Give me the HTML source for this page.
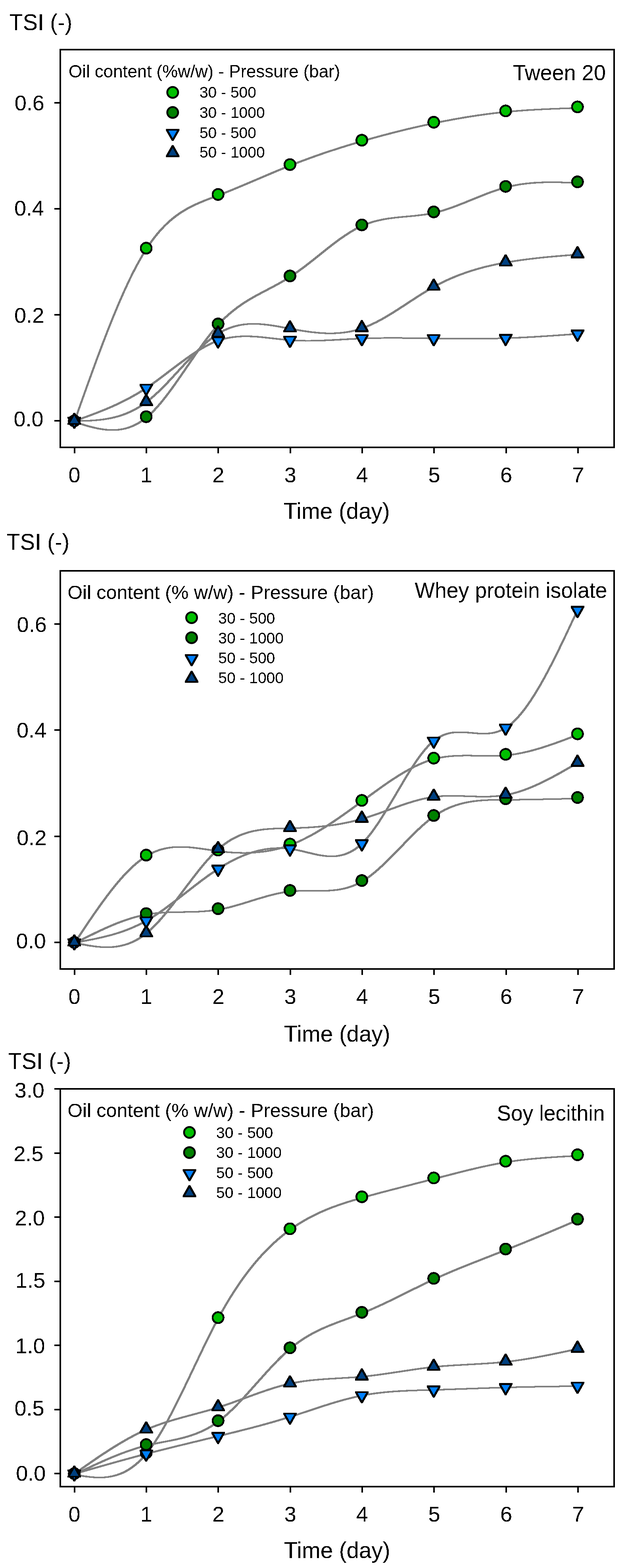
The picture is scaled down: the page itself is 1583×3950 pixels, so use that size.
<!DOCTYPE html><html><head><meta charset="utf-8"><title>TSI vs Time</title><style>html,body{margin:0;padding:0;background:#fff}svg{display:block}text{font-family:"Liberation Sans",Arial,Helvetica,sans-serif;fill:#000}</style></head><body>
<svg width="1583" height="3950" viewBox="0 0 1583 3950">
<defs><filter id="crisp" x="0" y="0" width="1583" height="3950" filterUnits="userSpaceOnUse"><feComponentTransfer><feFuncA type="discrete" tableValues="0 1"/></feComponentTransfer></filter></defs>
<rect width="1583" height="3950" fill="#fff"/>
<g fill="#000" shape-rendering="crispEdges">
<rect x="150" y="123" width="1400" height="4"/>
<rect x="150" y="1125" width="1400" height="4"/>
<rect x="150" y="123" width="4" height="1006"/>
<rect x="1546" y="123" width="4" height="1006"/>
<rect x="137" y="1058" width="14" height="4"/>
<rect x="137" y="791" width="14" height="4"/>
<rect x="137" y="524" width="14" height="4"/>
<rect x="137" y="257" width="14" height="4"/>
<rect x="186" y="1128" width="4" height="14"/>
<rect x="367" y="1128" width="4" height="14"/>
<rect x="548" y="1128" width="4" height="14"/>
<rect x="730" y="1128" width="4" height="14"/>
<rect x="911" y="1128" width="4" height="14"/>
<rect x="1092" y="1128" width="4" height="14"/>
<rect x="1274" y="1128" width="4" height="14"/>
<rect x="1455" y="1128" width="4" height="14"/>
</g>
<g stroke="#000" stroke-width="4.6">
<circle cx="435.3" cy="232.7" r="13.7" fill="#00C000" stroke-width="4.6"/>
<circle cx="435.3" cy="283.2" r="13.7" fill="#008000" stroke-width="4.6"/>
<g stroke="none"><path d="M433.3 355.1L437.3 355.1L452.3 328.7L452.3 324.7L418.3 324.7L418.3 328.7Z" fill="#000" stroke-width="4"/><path d="M435.3 348.2L446.1 329.1L424.5 329.1Z" fill="#0080FF" stroke-width="4"/></g>
<g stroke="none"><path d="M433.3 365.6L437.3 365.6L452.3 392L452.3 396L418.3 396L418.3 392Z" fill="#000" stroke-width="4"/><path d="M435.3 372.5L446.1 391.6L424.5 391.6Z" fill="#004080" stroke-width="4"/></g>
</g>
<g fill="#808080" fill-rule="evenodd" shape-rendering="crispEdges">
<path d="M281.3 801.2L269.3 831.4L257.3 862.4L244.3 896.9L230.3 935.0L211.3 987.7L185.3 1060.8L185.3 1064.8L189.3 1064.8L222.3 972.1L246.3 906.3L267.3 850.8L277.3 825.2L287.3 800.3L302.3 764.4L316.3 732.7L330.3 702.8L343.3 677.0L350.4 664.0L357.4 651.5L364.4 639.6L371.4 628.5L378.4 618.0L385.4 608.1L392.4 598.9L399.4 590.2L406.4 582.2L414.4 573.6L421.4 566.6L429.4 559.3L437.4 552.5L445.4 546.3L453.4 540.5L462.4 534.6L472.4 528.6L483.4 522.7L494.4 517.4L506.4 512.0L521.4 505.9L559.4 491.4L585.4 481.0L616.4 468.1L704.5 430.8L731.5 419.8L757.5 409.7L781.5 400.8L806.5 391.9L831.5 383.4L857.5 375.0L884.5 366.6L912.5 358.3L941.5 350.0L969.5 342.4L999.6 334.6L1029.6 327.2L1059.6 320.2L1089.6 313.7L1118.6 307.8L1147.6 302.3L1175.6 297.5L1203.6 293.1L1231.6 289.2L1258.6 285.9L1285.6 283.1L1313.7 280.8L1342.7 278.8L1374.7 277.1L1409.7 275.6L1457.7 273.9L1457.7 269.9L1429.7 270.7L1384.7 272.5L1353.7 274.0L1325.7 275.6L1299.7 277.6L1275.6 279.7L1251.6 282.2L1227.6 285.2L1200.6 288.9L1173.6 293.1L1145.6 297.9L1117.6 303.2L1088.6 309.1L1058.6 315.6L1029.6 322.2L999.6 329.6L971.5 336.8L942.5 344.6L913.5 352.8L885.5 361.1L858.5 369.4L832.5 377.8L806.5 386.5L781.5 395.3L749.5 407.2L717.5 419.8L685.5 433.0L616.4 462.5L587.4 474.6L557.4 486.6L514.4 503.1L503.4 507.6L493.4 512.0L484.4 516.2L476.4 520.3L468.4 524.6L460.4 529.4L453.4 533.8L446.4 538.6L439.4 543.8L432.4 549.3L425.4 555.3L419.4 560.7L412.4 567.6L406.4 573.8L399.4 581.6L393.4 588.6L387.4 596.2L381.4 604.1L375.4 612.5L369.4 621.4L358.4 639.0L346.4 660.0L334.3 682.7L321.3 709.3L308.3 737.6L295.3 767.5Z"/>
<path d="M185.3 1064.8L211.3 1072.9L224.3 1076.6L236.3 1079.6L248.3 1082.1L259.3 1083.9L269.3 1084.9L278.3 1085.4L290.3 1085.3L299.3 1084.7L308.3 1083.5L317.3 1081.7L326.3 1079.1L335.3 1075.7L343.3 1072.0L352.4 1067.1L360.4 1061.9L366.4 1057.6L372.4 1052.8L378.4 1047.5L384.4 1041.8L390.4 1035.8L397.4 1028.3L404.4 1020.3L411.4 1011.9L425.4 994.0L440.4 973.6L456.4 950.8L500.4 886.8L513.4 868.6L525.4 852.5L538.4 836.0L551.4 820.9L557.4 814.4L564.4 807.3L570.4 801.5L577.4 795.1L588.4 785.8L600.4 776.5L613.4 767.4L626.4 759.1L637.4 752.6L650.4 745.3L693.5 722.6L708.5 714.4L724.5 705.1L738.5 696.1L753.5 685.7L770.5 673.1L787.5 659.9L832.5 624.1L846.5 613.4L858.5 604.5L872.5 594.8L885.5 586.5L897.5 579.5L909.5 573.3L915.5 570.6L922.5 567.6L929.5 565.0L936.5 562.6L943.5 560.4L951.5 558.3L966.5 555.0L980.5 552.6L995.6 550.6L1010.6 549.0L1049.6 545.4L1069.6 543.0L1079.6 541.4L1089.6 539.6L1098.6 537.7L1108.6 535.1L1117.6 532.6L1127.6 529.4L1138.6 525.7L1149.6 521.7L1170.6 513.5L1220.6 493.3L1234.6 487.9L1246.6 483.5L1259.6 479.2L1271.6 475.5L1282.6 472.6L1294.6 469.9L1310.7 466.9L1327.7 464.5L1345.7 462.8L1363.7 461.7L1381.7 461.2L1399.7 461.2L1418.7 461.6L1453.7 462.8L1457.7 462.8L1457.7 458.8L1426.7 457.7L1403.7 457.2L1380.7 457.1L1361.7 457.6L1343.7 458.6L1325.7 460.3L1309.7 462.4L1293.6 465.3L1281.6 467.9L1269.6 471.0L1256.6 474.8L1243.6 479.2L1231.6 483.5L1217.6 488.9L1166.6 509.5L1145.6 517.7L1134.6 521.7L1123.6 525.4L1113.6 528.6L1103.6 531.4L1093.6 533.9L1084.6 535.8L1074.6 537.6L1064.6 539.1L1044.6 541.5L1007.6 544.9L992.6 546.5L976.5 548.6L962.5 551.0L947.5 554.3L939.5 556.4L932.5 558.6L925.5 561.0L918.5 563.6L911.5 566.6L905.5 569.3L893.5 575.5L881.5 582.5L868.5 590.8L854.5 600.5L842.5 609.4L828.5 620.1L783.5 655.9L766.5 669.1L749.5 681.7L734.5 692.1L720.5 701.1L704.5 710.4L689.5 718.6L646.4 741.3L633.4 748.6L622.4 755.1L609.4 763.4L596.4 772.5L584.4 781.8L573.4 791.1L566.4 797.5L560.4 803.3L553.4 810.4L547.4 816.9L534.4 832.0L521.4 848.5L509.4 864.6L496.4 882.8L452.4 946.8L437.4 968.2L422.4 988.7L408.4 1006.7L401.4 1015.1L394.4 1023.1L387.4 1030.7L381.4 1036.9L375.4 1042.6L369.4 1047.9L363.4 1052.8L357.4 1057.2L349.4 1062.5L341.3 1067.0L333.3 1070.9L325.3 1074.0L317.3 1076.6L308.3 1078.8L299.3 1080.3L290.3 1081.1L283.3 1081.4L272.3 1080.8L261.3 1079.6L250.3 1077.8L238.3 1075.2L224.3 1071.5L209.3 1067.1L189.3 1060.8L185.3 1060.8Z"/>
<path d="M281.3 1021.8L261.3 1030.3L240.3 1038.7L217.3 1047.3L185.3 1058.9L185.3 1062.9L189.3 1062.9L229.3 1048.4L258.3 1037.2L276.3 1029.7L293.3 1022.2L309.3 1014.6L324.3 1007.0L338.3 999.3L351.4 991.8L364.4 983.7L377.4 975.1L389.4 966.7L403.4 956.5L451.4 920.2L470.4 906.2L490.4 892.4L499.4 886.6L508.4 881.1L518.4 875.4L528.4 870.1L538.4 865.5L547.4 861.8L556.4 858.6L566.4 855.7L575.4 853.6L585.4 851.8L597.4 850.3L609.4 849.5L619.8 849.2L633.4 849.6L645.4 850.3L659.4 851.5L707.5 856.9L726.5 858.7L747.5 860.0L770.5 860.5L791.5 860.4L813.5 859.8L837.5 858.8L910.5 854.8L934.5 854.0L960.5 853.5L984.9 853.4L1013.6 853.5L1109.6 855.0L1151.6 855.4L1192.6 855.4L1228.6 855.1L1269.6 854.2L1309.7 852.7L1353.7 850.3L1405.7 846.9L1457.7 843.2L1457.7 839.2L1453.7 839.2L1384.7 844.1L1334.7 847.2L1292.6 849.2L1254.6 850.5L1212.6 851.3L1167.6 851.4L1118.6 851.0L1013.6 849.5L980.6 849.4L954.5 849.6L931.5 850.0L910.5 850.7L887.5 851.8L822.5 855.3L801.5 856.1L782.5 856.5L770.5 856.5L757.5 856.2L745.5 855.7L733.5 854.9L713.5 853.1L662.4 847.4L648.4 846.2L636.4 845.5L622.4 845.2L606.4 845.4L593.4 846.3L581.4 847.8L572.4 849.4L563.4 851.4L554.4 854.0L545.4 857.0L536.4 860.6L527.4 864.7L517.4 869.7L507.4 875.3L498.4 880.7L489.4 886.4L479.4 893.1L469.4 900.1L449.4 914.7L394.4 956.2L377.4 968.3L362.4 978.4L343.3 990.1L323.3 1001.4L303.3 1011.6Z"/>
<path d="M281.3 1050.5L271.3 1052.5L261.3 1054.2L251.3 1055.5L240.3 1056.6L229.3 1057.4L217.3 1058.0L185.3 1058.9L185.3 1062.9L216.3 1062.2L229.3 1061.7L240.3 1060.9L251.3 1059.9L261.3 1058.8L271.3 1057.2L280.3 1055.6L289.3 1053.6L298.3 1051.2L307.3 1048.4L316.3 1045.3L325.3 1041.6L333.3 1038.0L341.3 1033.9L349.4 1029.4L356.4 1025.1L362.4 1021.1L374.4 1012.3L387.4 1001.6L401.4 988.8L413.4 977.0L427.4 962.6L472.4 914.0L489.4 896.2L506.4 879.3L514.4 871.8L522.4 864.7L530.4 858.0L538.4 851.8L546.4 846.1L553.4 841.6L560.4 837.6L568.4 833.5L576.4 830.0L584.4 826.9L591.4 824.7L598.4 822.8L605.4 821.2L613.4 819.8L621.4 818.8L629.4 818.2L638.4 817.9L644.4 818.0L652.4 818.4L661.5 819.1L679.5 821.2L698.5 824.3L740.5 832.0L762.5 835.8L784.5 838.8L804.5 840.8L815.5 841.4L826.5 841.8L839.5 841.8L849.5 841.4L859.5 840.7L869.5 839.6L879.5 838.1L888.5 836.4L896.5 834.5L904.5 832.3L912.5 829.8L919.5 827.4L927.5 824.2L935.5 820.8L951.5 813.1L968.5 803.9L987.6 792.6L1007.6 780.0L1046.6 754.5L1063.6 743.6L1080.6 733.2L1095.6 724.5L1114.6 714.5L1124.6 709.7L1134.6 705.1L1154.6 696.7L1175.6 688.9L1187.6 685.0L1199.6 681.3L1211.6 677.8L1224.6 674.4L1237.6 671.3L1250.6 668.4L1278.6 663.0L1296.6 660.0L1314.7 657.3L1333.7 654.8L1354.7 652.3L1375.7 650.1L1398.7 648.0L1457.7 643.2L1457.7 639.2L1453.7 639.2L1416.7 642.1L1389.7 644.4L1365.7 646.7L1327.7 651.1L1309.7 653.5L1292.6 656.0L1276.6 658.7L1260.6 661.6L1245.6 664.6L1230.6 668.0L1216.6 671.4L1202.6 675.2L1188.6 679.4L1175.6 683.6L1154.6 691.2L1143.6 695.5L1133.6 699.8L1123.6 704.3L1113.6 709.0L1103.6 714.1L1093.6 719.4L1077.6 728.6L1060.6 739.0L1043.6 749.9L1003.6 776.0L983.6 788.6L964.5 799.9L946.5 809.6L930.5 817.2L922.5 820.6L914.5 823.7L907.5 826.2L899.5 828.6L891.5 830.8L883.5 832.6L874.5 834.3L864.5 835.8L855.5 836.7L845.5 837.4L836.5 837.7L828.5 837.7L817.5 837.4L806.5 836.6L786.5 834.6L765.5 831.6L744.5 828.0L702.5 820.3L683.5 817.2L665.5 815.1L656.4 814.4L648.4 814.0L637.4 813.9L629.4 814.0L620.4 814.6L612.4 815.4L604.4 816.7L596.4 818.3L588.4 820.4L580.4 822.9L572.4 826.0L564.4 829.5L556.4 833.6L548.4 838.3L540.4 843.5L532.4 849.3L524.4 855.7L515.4 863.3L500.4 877.2L483.4 894.2L467.4 911.1L427.4 954.3L416.4 965.9L406.4 976.0L396.4 985.7L386.4 994.9L377.4 1002.7L368.4 1009.9L358.4 1017.1L348.4 1023.6L338.3 1029.4L327.3 1034.9L316.3 1039.7L305.3 1043.8L293.3 1047.5Z"/>
</g>
<g stroke="#000" shape-rendering="crispEdges">
<circle cx="187.3" cy="1060.2" r="13.7" fill="#00C000" stroke-width="4.6"/>
<circle cx="368.5" cy="625.2" r="13.7" fill="#00C000" stroke-width="4.6"/>
<circle cx="549.7" cy="489.8" r="13.7" fill="#00C000" stroke-width="4.6"/>
<circle cx="730.9" cy="414.6" r="13.7" fill="#00C000" stroke-width="4.6"/>
<circle cx="912.1" cy="353.2" r="13.7" fill="#00C000" stroke-width="4.6"/>
<circle cx="1093.3" cy="307.9" r="13.7" fill="#00C000" stroke-width="4.6"/>
<circle cx="1274.5" cy="279.4" r="13.7" fill="#00C000" stroke-width="4.6"/>
<circle cx="1455.7" cy="269.3" r="13.7" fill="#00C000" stroke-width="4.6"/>
<circle cx="187.3" cy="1060.2" r="13.7" fill="#008000" stroke-width="4.6"/>
<circle cx="368.5" cy="1049.7" r="13.7" fill="#008000" stroke-width="4.6"/>
<circle cx="549.7" cy="816" r="13.7" fill="#008000" stroke-width="4.6"/>
<circle cx="730.9" cy="695.2" r="13.7" fill="#008000" stroke-width="4.6"/>
<circle cx="912.1" cy="566.6" r="13.7" fill="#008000" stroke-width="4.6"/>
<circle cx="1093.3" cy="533.8" r="13.7" fill="#008000" stroke-width="4.6"/>
<circle cx="1274.5" cy="469.6" r="13.7" fill="#008000" stroke-width="4.6"/>
<circle cx="1455.7" cy="458.2" r="13.7" fill="#008000" stroke-width="4.6"/>
<g stroke="none"><path d="M185.3 1080.4L189.3 1080.4L204.3 1054L204.3 1050L170.3 1050L170.3 1054Z" fill="#000" stroke-width="4"/><path d="M187.3 1073.5L198.1 1054.4L176.5 1054.4Z" fill="#0080FF" stroke-width="4"/></g>
<g stroke="none"><path d="M366.5 997.2L370.5 997.2L385.5 970.8L385.5 966.8L351.5 966.8L351.5 970.8Z" fill="#000" stroke-width="4"/><path d="M368.5 990.3L379.3 971.2L357.7 971.2Z" fill="#0080FF" stroke-width="4"/></g>
<g stroke="none"><path d="M547.7 877.7L551.7 877.7L566.7 851.3L566.7 847.3L532.7 847.3L532.7 851.3Z" fill="#000" stroke-width="4"/><path d="M549.7 870.8L560.5 851.7L538.9 851.7Z" fill="#0080FF" stroke-width="4"/></g>
<g stroke="none"><path d="M728.9 876.4L732.9 876.4L747.9 850L747.9 846L713.9 846L713.9 850Z" fill="#000" stroke-width="4"/><path d="M730.9 869.5L741.7 850.4L720.1 850.4Z" fill="#0080FF" stroke-width="4"/></g>
<g stroke="none"><path d="M910.1 872.2L914.1 872.2L929.1 845.8L929.1 841.8L895.1 841.8L895.1 845.8Z" fill="#000" stroke-width="4"/><path d="M912.1 865.3L922.9 846.2L901.3 846.2Z" fill="#0080FF" stroke-width="4"/></g>
<g stroke="none"><path d="M1091.3 872.2L1095.3 872.2L1110.3 845.8L1110.3 841.8L1076.3 841.8L1076.3 845.8Z" fill="#000" stroke-width="4"/><path d="M1093.3 865.3L1104.1 846.2L1082.5 846.2Z" fill="#0080FF" stroke-width="4"/></g>
<g stroke="none"><path d="M1272.5 871.5L1276.5 871.5L1291.5 845.1L1291.5 841.1L1257.5 841.1L1257.5 845.1Z" fill="#000" stroke-width="4"/><path d="M1274.5 864.6L1285.3 845.5L1263.7 845.5Z" fill="#0080FF" stroke-width="4"/></g>
<g stroke="none"><path d="M1453.7 860.7L1457.7 860.7L1472.7 834.3L1472.7 830.3L1438.7 830.3L1438.7 834.3Z" fill="#000" stroke-width="4"/><path d="M1455.7 853.8L1466.5 834.7L1444.9 834.7Z" fill="#0080FF" stroke-width="4"/></g>
<g stroke="none"><path d="M185.3 1040L189.3 1040L204.3 1066.4L204.3 1070.4L170.3 1070.4L170.3 1066.4Z" fill="#000" stroke-width="4"/><path d="M187.3 1046.9L198.1 1066L176.5 1066Z" fill="#004080" stroke-width="4"/></g>
<g stroke="none"><path d="M366.5 992.4L370.5 992.4L385.5 1018.8L385.5 1022.8L351.5 1022.8L351.5 1018.8Z" fill="#000" stroke-width="4"/><path d="M368.5 999.3L379.3 1018.4L357.7 1018.4Z" fill="#004080" stroke-width="4"/></g>
<g stroke="none"><path d="M547.7 819.8L551.7 819.8L566.7 846.2L566.7 850.2L532.7 850.2L532.7 846.2Z" fill="#000" stroke-width="4"/><path d="M549.7 826.7L560.5 845.8L538.9 845.8Z" fill="#004080" stroke-width="4"/></g>
<g stroke="none"><path d="M728.9 807L732.9 807L747.9 833.4L747.9 837.4L713.9 837.4L713.9 833.4Z" fill="#000" stroke-width="4"/><path d="M730.9 813.9L741.7 833L720.1 833Z" fill="#004080" stroke-width="4"/></g>
<g stroke="none"><path d="M910.1 806.4L914.1 806.4L929.1 832.8L929.1 836.8L895.1 836.8L895.1 832.8Z" fill="#000" stroke-width="4"/><path d="M912.1 813.3L922.9 832.4L901.3 832.4Z" fill="#004080" stroke-width="4"/></g>
<g stroke="none"><path d="M1091.3 701.8L1095.3 701.8L1110.3 728.2L1110.3 732.2L1076.3 732.2L1076.3 728.2Z" fill="#000" stroke-width="4"/><path d="M1093.3 708.7L1104.1 727.8L1082.5 727.8Z" fill="#004080" stroke-width="4"/></g>
<g stroke="none"><path d="M1272.5 640.5L1276.5 640.5L1291.5 666.9L1291.5 670.9L1257.5 670.9L1257.5 666.9Z" fill="#000" stroke-width="4"/><path d="M1274.5 647.4L1285.3 666.5L1263.7 666.5Z" fill="#004080" stroke-width="4"/></g>
<g stroke="none"><path d="M1453.7 620.3L1457.7 620.3L1472.7 646.7L1472.7 650.7L1438.7 650.7L1438.7 646.7Z" fill="#000" stroke-width="4"/><path d="M1455.7 627.2L1466.5 646.3L1444.9 646.3Z" fill="#004080" stroke-width="4"/></g>
</g>
<g filter="url(#crisp)"><text x="36.7" y="277.6" font-size="54">0.6</text><text x="36" y="542.6" font-size="54">0.4</text><text x="36.1" y="813.1" font-size="54">0.2</text><text x="34.5" y="1073.5" font-size="54">0.0</text><text x="187.5" y="1214.7" font-size="54" text-anchor="middle">0</text><text x="368.9" y="1214.7" font-size="54" text-anchor="middle">1</text><text x="550.3" y="1214.7" font-size="54" text-anchor="middle">2</text><text x="731.7" y="1214.7" font-size="54" text-anchor="middle">3</text><text x="913.1" y="1214.7" font-size="54" text-anchor="middle">4</text><text x="1094.5" y="1214.7" font-size="54" text-anchor="middle">5</text><text x="1275.9" y="1214.7" font-size="54" text-anchor="middle">6</text><text x="1457.3" y="1214.7" font-size="54" text-anchor="middle">7</text><text transform="translate(23.6 76.2) scale(1 1.04)" font-size="56">TSI (-)</text><text x="714.8" y="1306.5" font-size="56.5">Time (day)</text><text x="172.9" y="194.6" font-size="43.83">Oil content (%w/w) - Pressure (bar)</text><text transform="translate(1292.8 202) scale(1 1.027)" font-size="54">Tween 20</text><text x="502.9" y="245.8" font-size="39">30 - 500</text><text x="502.9" y="296.8" font-size="39">30 - 1000</text><text x="502.9" y="347.5" font-size="39">50 - 500</text><text x="502.9" y="397.2" font-size="39">50 - 1000</text></g>
<g fill="#000" shape-rendering="crispEdges">
<rect x="150" y="1436" width="1400" height="4"/>
<rect x="150" y="2439" width="1400" height="4"/>
<rect x="150" y="1436" width="4" height="1007"/>
<rect x="1546" y="1436" width="4" height="1007"/>
<rect x="137" y="2372" width="14" height="4"/>
<rect x="137" y="2105" width="14" height="4"/>
<rect x="137" y="1837" width="14" height="4"/>
<rect x="137" y="1570" width="14" height="4"/>
<rect x="186" y="2442" width="4" height="14"/>
<rect x="367" y="2442" width="4" height="14"/>
<rect x="548" y="2442" width="4" height="14"/>
<rect x="730" y="2442" width="4" height="14"/>
<rect x="911" y="2442" width="4" height="14"/>
<rect x="1092" y="2442" width="4" height="14"/>
<rect x="1274" y="2442" width="4" height="14"/>
<rect x="1455" y="2442" width="4" height="14"/>
</g>
<g stroke="#000" stroke-width="4.6">
<circle cx="483" cy="1555.9" r="13.7" fill="#00C000" stroke-width="4.6"/>
<circle cx="483" cy="1606.4" r="13.7" fill="#008000" stroke-width="4.6"/>
<g stroke="none"><path d="M481 1678.3L485 1678.3L500 1651.9L500 1647.9L466 1647.9L466 1651.9Z" fill="#000" stroke-width="4"/><path d="M483 1671.4L493.8 1652.3L472.2 1652.3Z" fill="#0080FF" stroke-width="4"/></g>
<g stroke="none"><path d="M481 1689.7L485 1689.7L500 1716.1L500 1720.1L466 1720.1L466 1716.1Z" fill="#000" stroke-width="4"/><path d="M483 1696.6L493.8 1715.7L472.2 1715.7Z" fill="#004080" stroke-width="4"/></g>
</g>
<g fill="#808080" fill-rule="evenodd" shape-rendering="crispEdges">
<path d="M281.3 2237.6L268.3 2254.4L254.3 2273.4L240.3 2293.0L224.3 2316.3L185.3 2374.7L185.3 2378.7L189.3 2378.7L212.3 2344.0L229.3 2318.8L244.3 2297.0L258.3 2277.4L272.3 2258.4L285.3 2241.6L297.3 2226.8L309.3 2212.9L320.3 2201.0L331.3 2190.0L342.3 2179.9L352.4 2171.6L362.4 2164.2L372.4 2157.7L382.4 2152.2L392.4 2147.5L399.4 2144.8L406.4 2142.5L413.4 2140.6L420.4 2139.0L427.4 2137.7L435.4 2136.6L443.4 2135.9L451.4 2135.5L458.4 2135.5L467.4 2135.9L476.4 2136.5L486.4 2137.5L504.4 2139.8L545.4 2145.8L567.4 2148.3L587.4 2149.9L607.4 2150.6L622.4 2150.6L635.4 2150.2L648.4 2149.3L660.4 2148.1L673.5 2146.3L685.5 2144.2L697.5 2141.6L709.5 2138.5L721.5 2134.8L732.5 2131.1L743.5 2126.8L755.5 2121.7L767.5 2116.0L780.5 2109.4L793.5 2102.3L806.5 2094.7L819.5 2086.8L832.5 2078.5L846.5 2069.2L860.5 2059.5L889.5 2038.9L958.5 1988.4L978.5 1974.4L996.6 1962.4L1007.6 1955.4L1017.6 1949.3L1027.6 1943.5L1036.6 1938.6L1045.6 1933.9L1054.6 1929.6L1063.6 1925.6L1072.6 1921.9L1080.6 1919.0L1088.6 1916.4L1095.6 1914.3L1103.6 1912.3L1111.6 1910.6L1119.6 1909.2L1128.6 1907.9L1137.6 1906.9L1153.6 1905.9L1171.6 1905.4L1185.6 1905.5L1230.6 1906.3L1246.6 1906.3L1259.6 1906.0L1272.6 1905.2L1284.6 1904.1L1297.6 1902.3L1310.7 1900.1L1329.7 1896.0L1348.7 1891.2L1369.7 1885.0L1392.7 1877.4L1419.7 1867.7L1457.7 1853.3L1457.7 1849.3L1453.7 1849.3L1422.7 1861.1L1399.7 1869.5L1378.7 1876.8L1359.7 1882.8L1343.7 1887.4L1328.7 1891.3L1313.7 1894.7L1299.7 1897.4L1287.6 1899.2L1275.6 1900.6L1263.6 1901.6L1251.6 1902.1L1232.6 1902.3L1189.6 1901.5L1170.6 1901.4L1154.6 1901.7L1139.6 1902.5L1123.6 1904.0L1108.6 1906.4L1094.6 1909.5L1087.6 1911.5L1080.6 1913.6L1072.6 1916.4L1063.6 1919.9L1054.6 1923.8L1045.6 1928.0L1036.6 1932.5L1026.6 1937.9L1016.6 1943.5L1006.6 1949.5L986.6 1962.3L964.5 1977.4L942.5 1993.1L893.5 2029.1L871.5 2045.0L847.5 2061.8L826.5 2075.8L814.5 2083.4L802.5 2090.7L791.5 2097.2L780.5 2103.3L769.5 2109.0L759.5 2114.0L749.5 2118.6L739.5 2122.8L726.5 2127.8L713.5 2132.1L700.5 2135.8L686.5 2139.1L672.5 2141.8L658.4 2143.8L644.4 2145.3L629.4 2146.3L615.4 2146.6L603.4 2146.4L589.4 2145.8L574.4 2144.6L562.4 2143.4L549.4 2141.8L510.4 2136.1L495.4 2134.1L481.4 2132.6L468.4 2131.7L460.4 2131.5L450.4 2131.5L443.4 2131.7L436.4 2132.1L429.4 2132.9L422.4 2133.9L415.4 2135.2L409.4 2136.6L401.4 2138.8L393.4 2141.6L385.4 2144.8L378.4 2148.2L370.4 2152.5L363.4 2156.8L356.4 2161.6L348.4 2167.6L340.3 2174.2L332.3 2181.3L324.3 2188.9L316.3 2197.0L308.3 2205.6L299.3 2215.8L290.3 2226.4Z"/>
<path d="M281.3 2328.6L261.3 2337.3L240.3 2347.1L217.3 2358.5L185.3 2374.7L185.3 2378.7L189.3 2378.7L224.3 2361.0L250.3 2348.3L273.3 2337.8L294.3 2328.9L312.3 2322.1L330.3 2316.0L347.3 2311.1L364.4 2307.2L375.4 2305.2L386.4 2303.5L398.4 2302.2L410.4 2301.2L422.4 2300.5L435.4 2300.1L483.4 2299.2L503.4 2298.5L524.4 2297.1L542.4 2295.1L552.4 2293.6L562.4 2291.7L573.4 2289.3L584.4 2286.6L607.4 2280.1L655.4 2265.3L675.5 2259.5L696.5 2254.1L706.5 2251.9L715.5 2250.3L724.5 2248.8L733.5 2247.7L742.5 2247.0L751.5 2246.5L769.5 2246.1L798.5 2246.3L815.5 2246.2L828.5 2245.8L840.5 2244.9L853.5 2243.4L865.5 2241.3L877.5 2238.3L888.5 2234.7L896.5 2231.6L903.5 2228.4L911.5 2224.3L918.5 2220.1L925.5 2215.6L933.5 2209.9L941.5 2203.7L950.5 2196.3L964.5 2183.7L980.5 2168.3L995.6 2153.2L1033.6 2114.0L1052.6 2095.1L1061.6 2086.7L1070.6 2078.6L1079.6 2070.9L1087.6 2064.6L1096.6 2058.0L1104.6 2052.7L1113.6 2047.3L1122.6 2042.4L1131.6 2038.1L1140.6 2034.4L1149.6 2031.1L1159.6 2027.9L1173.6 2024.4L1188.6 2021.5L1204.6 2019.4L1221.6 2018.0L1233.6 2017.4L1246.6 2017.0L1303.7 2016.6L1342.7 2016.1L1457.7 2013.6L1457.7 2009.6L1344.7 2012.0L1300.7 2012.6L1247.6 2013.0L1225.6 2013.6L1206.6 2014.8L1189.6 2016.7L1181.6 2018.0L1173.6 2019.5L1165.6 2021.3L1158.6 2023.1L1148.6 2026.1L1138.6 2029.6L1128.6 2033.7L1119.6 2037.9L1110.6 2042.7L1101.6 2048.0L1092.6 2054.0L1084.6 2059.8L1076.6 2066.1L1067.6 2073.7L1058.6 2081.7L1048.6 2091.1L1029.6 2110.0L991.6 2149.2L976.5 2164.3L960.5 2179.7L945.5 2193.1L936.5 2200.5L928.5 2206.6L920.5 2212.3L913.5 2216.8L906.5 2220.8L898.5 2224.9L890.5 2228.4L882.5 2231.4L871.5 2234.9L860.5 2237.5L848.5 2239.6L835.5 2241.0L823.5 2241.8L810.5 2242.2L765.5 2242.1L747.5 2242.5L738.5 2243.0L729.5 2243.7L720.5 2244.8L711.5 2246.3L702.5 2247.9L692.5 2250.1L671.5 2255.5L651.4 2261.3L603.4 2276.1L579.4 2282.8L568.4 2285.5L557.4 2287.9L547.4 2289.7L537.4 2291.3L519.4 2293.2L498.4 2294.6L479.4 2295.2L433.4 2296.0L411.4 2296.9L391.4 2298.5L381.4 2299.7L372.4 2301.0L362.4 2302.8L351.4 2305.2L340.3 2307.9L329.3 2311.1L318.3 2314.6L306.3 2318.8L294.3 2323.3Z"/>
<path d="M281.3 2352.6L261.3 2357.8L240.3 2362.6L217.3 2367.1L185.3 2372.8L185.3 2376.8L189.3 2376.8L216.3 2372.0L235.3 2368.4L260.3 2363.0L282.3 2357.4L302.3 2351.4L312.3 2348.0L321.3 2344.7L330.3 2341.1L339.3 2337.3L348.4 2333.2L356.4 2329.3L369.4 2322.3L383.4 2314.1L397.4 2305.1L412.4 2294.8L426.4 2284.7L441.4 2273.4L492.4 2233.8L512.4 2218.5L533.4 2203.3L551.4 2191.2L562.4 2184.3L572.4 2178.4L583.4 2172.3L593.4 2167.2L603.4 2162.5L613.4 2158.1L623.4 2154.2L633.4 2150.7L643.4 2147.6L653.4 2144.9L663.4 2142.7L672.5 2141.1L682.5 2139.7L692.5 2138.8L703.5 2138.4L710.5 2138.6L718.5 2139.1L725.5 2139.8L732.5 2140.7L740.5 2142.1L755.5 2145.3L790.5 2153.6L799.5 2155.5L808.5 2157.1L817.5 2158.3L825.5 2159.0L832.5 2159.2L842.5 2159.1L850.5 2158.5L857.5 2157.5L864.5 2156.0L871.5 2154.0L878.5 2151.3L884.5 2148.6L891.5 2144.7L897.5 2140.9L903.5 2136.5L908.5 2132.4L913.5 2127.8L919.5 2121.9L925.5 2115.3L931.5 2108.2L937.5 2100.6L943.5 2092.5L955.5 2075.2L969.5 2053.4L984.6 2028.7L1024.6 1961.2L1037.6 1940.3L1048.6 1923.5L1055.6 1913.4L1061.6 1905.2L1067.6 1897.4L1073.6 1890.1L1079.6 1883.4L1084.6 1878.1L1090.6 1872.4L1095.6 1868.2L1100.6 1864.4L1106.6 1860.4L1111.6 1857.5L1117.6 1854.6L1123.6 1852.2L1129.6 1850.3L1135.6 1848.8L1142.6 1847.6L1152.6 1846.7L1158.6 1846.5L1162.6 1846.6L1174.6 1847.2L1205.6 1849.8L1213.6 1850.1L1223.6 1850.2L1231.6 1849.9L1238.6 1849.2L1245.6 1848.0L1252.6 1846.4L1259.6 1844.1L1266.6 1841.2L1273.6 1837.5L1279.6 1833.8L1285.6 1829.4L1292.6 1823.6L1299.7 1817.1L1306.7 1809.8L1314.7 1800.7L1322.7 1790.7L1330.7 1779.9L1338.7 1768.3L1346.7 1756.1L1355.7 1741.5L1364.7 1726.2L1373.7 1710.2L1384.7 1689.8L1395.7 1668.5L1407.7 1644.5L1421.7 1615.7L1457.7 1539.3L1457.7 1535.3L1453.7 1535.3L1422.7 1601.3L1399.7 1648.6L1389.7 1668.4L1379.7 1687.7L1369.7 1706.2L1360.7 1722.2L1352.7 1735.9L1344.7 1748.9L1336.7 1761.3L1329.7 1771.6L1322.7 1781.4L1315.7 1790.5L1308.7 1799.0L1301.7 1806.9L1294.6 1814.0L1287.6 1820.5L1280.6 1826.2L1274.6 1830.4L1268.6 1834.1L1261.6 1837.6L1254.6 1840.5L1247.6 1842.6L1241.6 1844.0L1234.6 1845.2L1227.6 1845.9L1219.7 1846.2L1206.6 1845.6L1178.6 1843.2L1166.6 1842.6L1150.6 1842.6L1144.6 1842.9L1138.6 1843.6L1131.6 1844.8L1125.6 1846.3L1119.6 1848.2L1113.6 1850.6L1107.6 1853.5L1102.6 1856.4L1096.6 1860.4L1091.6 1864.2L1086.6 1868.4L1080.6 1874.1L1075.6 1879.4L1069.6 1886.1L1063.6 1893.4L1057.6 1901.2L1051.6 1909.4L1044.6 1919.5L1033.6 1936.3L1020.6 1957.2L980.6 2024.7L965.5 2049.4L951.5 2071.2L939.5 2088.5L933.5 2096.6L927.5 2104.2L921.5 2111.3L915.5 2117.9L909.5 2123.8L904.5 2128.4L899.5 2132.5L893.5 2136.9L887.5 2140.7L880.5 2144.6L874.5 2147.3L867.5 2150.0L860.5 2152.0L853.5 2153.5L846.5 2154.5L838.5 2155.1L833.5 2155.2L826.5 2154.8L819.5 2154.1L811.5 2152.9L803.5 2151.5L794.5 2149.6L758.5 2141.0L743.5 2137.9L735.5 2136.6L727.5 2135.5L720.5 2134.9L712.5 2134.5L699.5 2134.4L689.5 2134.8L679.5 2135.6L668.5 2137.1L657.4 2139.1L646.4 2141.7L635.4 2144.8L624.4 2148.4L614.4 2152.1L604.4 2156.3L594.4 2160.8L584.4 2165.7L574.4 2171.0L564.4 2176.7L554.4 2182.8L543.4 2189.8L525.4 2202.1L506.4 2216.0L487.4 2230.5L441.4 2266.3L417.4 2284.3L405.4 2292.9L394.4 2300.4L384.4 2307.0L374.4 2313.1L363.4 2319.5L352.4 2325.3L341.3 2330.6L330.3 2335.5L318.3 2340.3L306.3 2344.7L294.3 2348.7Z"/>
<path d="M185.3 2376.8L210.3 2381.9L223.3 2384.2L235.3 2385.9L246.3 2387.2L256.3 2387.9L266.3 2388.2L278.3 2388.1L288.3 2387.5L297.3 2386.4L306.3 2384.7L315.3 2382.5L323.3 2380.0L332.3 2376.6L340.3 2372.9L348.4 2368.7L356.4 2363.8L363.4 2359.0L369.4 2354.4L375.4 2349.5L381.4 2344.1L388.4 2337.5L395.4 2330.4L402.4 2322.9L409.4 2315.0L422.4 2299.6L436.4 2282.0L450.4 2263.8L485.4 2217.4L503.4 2194.3L513.4 2182.1L522.4 2171.6L531.4 2161.6L539.4 2153.3L548.4 2144.6L557.4 2136.7L566.4 2129.6L575.4 2123.2L584.4 2117.5L594.4 2112.1L604.4 2107.3L615.4 2102.9L627.4 2099.0L640.4 2095.7L654.4 2093.1L668.5 2091.2L680.5 2090.2L693.5 2089.4L755.5 2087.7L775.5 2086.8L794.5 2085.5L814.5 2083.7L833.5 2081.5L852.5 2078.8L870.5 2075.5L885.5 2072.4L899.5 2069.0L913.5 2065.3L927.5 2061.0L953.5 2052.3L1014.6 2030.4L1029.6 2025.4L1043.6 2021.0L1056.6 2017.4L1068.6 2014.4L1080.6 2011.9L1091.6 2010.0L1101.6 2008.7L1112.6 2007.7L1123.6 2007.1L1135.6 2006.8L1155.6 2007.1L1206.6 2008.8L1224.6 2008.9L1237.6 2008.6L1250.6 2007.9L1263.6 2006.6L1275.6 2004.8L1286.6 2002.7L1295.6 2000.6L1305.7 1997.8L1315.7 1994.7L1325.7 1991.2L1335.7 1987.4L1346.7 1982.8L1357.7 1977.9L1368.7 1972.8L1386.7 1963.8L1406.7 1953.1L1428.7 1940.7L1457.7 1924.0L1457.7 1920.0L1453.7 1920.0L1418.7 1940.1L1393.7 1953.9L1370.7 1965.8L1349.7 1975.8L1331.7 1983.4L1322.7 1986.8L1313.7 1990.0L1304.7 1992.9L1296.7 1995.2L1288.6 1997.3L1280.6 1999.1L1269.6 2001.2L1258.6 2002.7L1246.6 2003.9L1233.6 2004.6L1221.6 2004.9L1210.6 2004.8L1156.6 2003.0L1131.6 2002.8L1119.6 2003.1L1108.6 2003.7L1097.6 2004.7L1087.6 2006.0L1076.6 2007.9L1064.6 2010.4L1052.6 2013.4L1039.6 2017.0L1025.6 2021.4L1010.6 2026.4L949.5 2048.3L923.5 2057.0L909.5 2061.3L895.5 2065.0L881.5 2068.4L866.5 2071.5L848.5 2074.8L829.5 2077.5L810.5 2079.7L790.5 2081.5L771.5 2082.8L751.5 2083.7L689.5 2085.4L676.5 2086.2L664.5 2087.2L650.4 2089.1L636.4 2091.7L623.4 2095.0L611.4 2098.9L600.4 2103.3L590.4 2108.1L580.4 2113.5L571.4 2119.2L562.4 2125.6L553.4 2132.7L544.4 2140.6L535.4 2149.3L527.4 2157.6L518.4 2167.6L509.4 2178.1L499.4 2190.3L481.4 2213.4L446.4 2259.8L433.4 2276.7L419.4 2294.3L406.4 2309.9L392.4 2325.3L385.4 2332.5L379.4 2338.3L372.4 2344.6L366.4 2349.6L360.4 2354.2L354.4 2358.4L347.4 2362.9L339.3 2367.4L331.3 2371.3L323.3 2374.6L315.3 2377.3L306.3 2379.8L298.3 2381.5L289.3 2382.9L279.3 2383.9L269.6 2384.2L259.3 2383.9L249.3 2383.1L237.3 2381.7L224.3 2379.7L209.3 2376.9L189.3 2372.8L185.3 2372.8Z"/>
</g>
<g stroke="#000" shape-rendering="crispEdges">
<circle cx="187.3" cy="2374.1" r="13.7" fill="#00C000" stroke-width="4.6"/>
<circle cx="368.5" cy="2154.2" r="13.7" fill="#00C000" stroke-width="4.6"/>
<circle cx="549.7" cy="2141.5" r="13.7" fill="#00C000" stroke-width="4.6"/>
<circle cx="730.9" cy="2126.3" r="13.7" fill="#00C000" stroke-width="4.6"/>
<circle cx="912.1" cy="2016.3" r="13.7" fill="#00C000" stroke-width="4.6"/>
<circle cx="1093.3" cy="1909.8" r="13.7" fill="#00C000" stroke-width="4.6"/>
<circle cx="1274.5" cy="1900.3" r="13.7" fill="#00C000" stroke-width="4.6"/>
<circle cx="1455.7" cy="1848.7" r="13.7" fill="#00C000" stroke-width="4.6"/>
<circle cx="187.3" cy="2374.1" r="13.7" fill="#008000" stroke-width="4.6"/>
<circle cx="368.5" cy="2301.4" r="13.7" fill="#008000" stroke-width="4.6"/>
<circle cx="549.7" cy="2289.1" r="13.7" fill="#008000" stroke-width="4.6"/>
<circle cx="730.9" cy="2243.2" r="13.7" fill="#008000" stroke-width="4.6"/>
<circle cx="912.1" cy="2218.2" r="13.7" fill="#008000" stroke-width="4.6"/>
<circle cx="1093.3" cy="2054.3" r="13.7" fill="#008000" stroke-width="4.6"/>
<circle cx="1274.5" cy="2012.2" r="13.7" fill="#008000" stroke-width="4.6"/>
<circle cx="1455.7" cy="2009" r="13.7" fill="#008000" stroke-width="4.6"/>
<g stroke="none"><path d="M185.3 2394.3L189.3 2394.3L204.3 2367.9L204.3 2363.9L170.3 2363.9L170.3 2367.9Z" fill="#000" stroke-width="4"/><path d="M187.3 2387.4L198.1 2368.3L176.5 2368.3Z" fill="#0080FF" stroke-width="4"/></g>
<g stroke="none"><path d="M366.5 2339.2L370.5 2339.2L385.5 2312.8L385.5 2308.8L351.5 2308.8L351.5 2312.8Z" fill="#000" stroke-width="4"/><path d="M368.5 2332.3L379.3 2313.2L357.7 2313.2Z" fill="#0080FF" stroke-width="4"/></g>
<g stroke="none"><path d="M547.7 2208.5L551.7 2208.5L566.7 2182.1L566.7 2178.1L532.7 2178.1L532.7 2182.1Z" fill="#000" stroke-width="4"/><path d="M549.7 2201.6L560.5 2182.5L538.9 2182.5Z" fill="#0080FF" stroke-width="4"/></g>
<g stroke="none"><path d="M728.9 2157.7L732.9 2157.7L747.9 2131.3L747.9 2127.3L713.9 2127.3L713.9 2131.3Z" fill="#000" stroke-width="4"/><path d="M730.9 2150.8L741.7 2131.7L720.1 2131.7Z" fill="#0080FF" stroke-width="4"/></g>
<g stroke="none"><path d="M910.1 2144.8L914.1 2144.8L929.1 2118.4L929.1 2114.4L895.1 2114.4L895.1 2118.4Z" fill="#000" stroke-width="4"/><path d="M912.1 2137.9L922.9 2118.8L901.3 2118.8Z" fill="#0080FF" stroke-width="4"/></g>
<g stroke="none"><path d="M1091.3 1885.9L1095.3 1885.9L1110.3 1859.5L1110.3 1855.5L1076.3 1855.5L1076.3 1859.5Z" fill="#000" stroke-width="4"/><path d="M1093.3 1879L1104.1 1859.9L1082.5 1859.9Z" fill="#0080FF" stroke-width="4"/></g>
<g stroke="none"><path d="M1272.5 1853.3L1276.5 1853.3L1291.5 1826.9L1291.5 1822.9L1257.5 1822.9L1257.5 1826.9Z" fill="#000" stroke-width="4"/><path d="M1274.5 1846.4L1285.3 1827.3L1263.7 1827.3Z" fill="#0080FF" stroke-width="4"/></g>
<g stroke="none"><path d="M1453.7 1556.8L1457.7 1556.8L1472.7 1530.4L1472.7 1526.4L1438.7 1526.4L1438.7 1530.4Z" fill="#000" stroke-width="4"/><path d="M1455.7 1549.9L1466.5 1530.8L1444.9 1530.8Z" fill="#0080FF" stroke-width="4"/></g>
<g stroke="none"><path d="M185.3 2353.9L189.3 2353.9L204.3 2380.3L204.3 2384.3L170.3 2384.3L170.3 2380.3Z" fill="#000" stroke-width="4"/><path d="M187.3 2360.8L198.1 2379.9L176.5 2379.9Z" fill="#004080" stroke-width="4"/></g>
<g stroke="none"><path d="M366.5 2330.6L370.5 2330.6L385.5 2357L385.5 2361L351.5 2361L351.5 2357Z" fill="#000" stroke-width="4"/><path d="M368.5 2337.5L379.3 2356.6L357.7 2356.6Z" fill="#004080" stroke-width="4"/></g>
<g stroke="none"><path d="M547.7 2118.7L551.7 2118.7L566.7 2145.1L566.7 2149.1L532.7 2149.1L532.7 2145.1Z" fill="#000" stroke-width="4"/><path d="M549.7 2125.6L560.5 2144.7L538.9 2144.7Z" fill="#004080" stroke-width="4"/></g>
<g stroke="none"><path d="M728.9 2065.5L732.9 2065.5L747.9 2091.9L747.9 2095.9L713.9 2095.9L713.9 2091.9Z" fill="#000" stroke-width="4"/><path d="M730.9 2072.4L741.7 2091.5L720.1 2091.5Z" fill="#004080" stroke-width="4"/></g>
<g stroke="none"><path d="M910.1 2042.2L914.1 2042.2L929.1 2068.6L929.1 2072.6L895.1 2072.6L895.1 2068.6Z" fill="#000" stroke-width="4"/><path d="M912.1 2049.1L922.9 2068.2L901.3 2068.2Z" fill="#004080" stroke-width="4"/></g>
<g stroke="none"><path d="M1091.3 1986.6L1095.3 1986.6L1110.3 2013L1110.3 2017L1076.3 2017L1076.3 2013Z" fill="#000" stroke-width="4"/><path d="M1093.3 1993.5L1104.1 2012.6L1082.5 2012.6Z" fill="#004080" stroke-width="4"/></g>
<g stroke="none"><path d="M1272.5 1981.8L1276.5 1981.8L1291.5 2008.2L1291.5 2012.2L1257.5 2012.2L1257.5 2008.2Z" fill="#000" stroke-width="4"/><path d="M1274.5 1988.7L1285.3 2007.8L1263.7 2007.8Z" fill="#004080" stroke-width="4"/></g>
<g stroke="none"><path d="M1453.7 1901.1L1457.7 1901.1L1472.7 1927.5L1472.7 1931.5L1438.7 1931.5L1438.7 1927.5Z" fill="#000" stroke-width="4"/><path d="M1455.7 1908L1466.5 1927.1L1444.9 1927.1Z" fill="#004080" stroke-width="4"/></g>
</g>
<g filter="url(#crisp)"><text x="42.6" y="1591.6" font-size="54">0.6</text><text x="42.1" y="1857.6" font-size="54">0.4</text><text x="42.2" y="2128.6" font-size="54">0.2</text><text x="40.6" y="2388.5" font-size="54">0.0</text><text x="187.5" y="2528.7" font-size="54" text-anchor="middle">0</text><text x="368.9" y="2528.7" font-size="54" text-anchor="middle">1</text><text x="550.3" y="2528.7" font-size="54" text-anchor="middle">2</text><text x="731.7" y="2528.7" font-size="54" text-anchor="middle">3</text><text x="913.1" y="2528.7" font-size="54" text-anchor="middle">4</text><text x="1094.5" y="2528.7" font-size="54" text-anchor="middle">5</text><text x="1275.9" y="2528.7" font-size="54" text-anchor="middle">6</text><text x="1457.3" y="2528.7" font-size="54" text-anchor="middle">7</text><text transform="translate(16.6 1384.9) scale(1 1.04)" font-size="56">TSI (-)</text><text x="715.8" y="2623.8" font-size="56.5">Time (day)</text><text x="170.3" y="1508.8" font-size="48.6">Oil content (% w/w) - Pressure (bar)</text><text transform="translate(1045.6 1505.9) scale(1 1.027)" font-size="53.5">Whey protein isolate</text><text x="550.2" y="1570.6" font-size="39">30 - 500</text><text x="550.2" y="1620.5" font-size="39">30 - 1000</text><text x="550.2" y="1670.7" font-size="39">50 - 500</text><text x="550.2" y="1720.9" font-size="39">50 - 1000</text></g>
<g fill="#000" shape-rendering="crispEdges">
<rect x="150" y="2741" width="1400" height="4"/>
<rect x="150" y="3743" width="1400" height="4"/>
<rect x="150" y="2741" width="4" height="1006"/>
<rect x="1546" y="2741" width="4" height="1006"/>
<rect x="137" y="3710" width="14" height="4"/>
<rect x="137" y="3549" width="14" height="4"/>
<rect x="137" y="3387" width="14" height="4"/>
<rect x="137" y="3226" width="14" height="4"/>
<rect x="137" y="3064" width="14" height="4"/>
<rect x="137" y="2903" width="14" height="4"/>
<rect x="137" y="2741" width="14" height="4"/>
<rect x="186" y="3746" width="4" height="14"/>
<rect x="367" y="3746" width="4" height="14"/>
<rect x="548" y="3746" width="4" height="14"/>
<rect x="730" y="3746" width="4" height="14"/>
<rect x="911" y="3746" width="4" height="14"/>
<rect x="1092" y="3746" width="4" height="14"/>
<rect x="1274" y="3746" width="4" height="14"/>
<rect x="1455" y="3746" width="4" height="14"/>
</g>
<g stroke="#000" stroke-width="4.6">
<circle cx="477.6" cy="2852.7" r="13.7" fill="#00C000" stroke-width="4.6"/>
<circle cx="477.6" cy="2903.4" r="13.7" fill="#008000" stroke-width="4.6"/>
<g stroke="none"><path d="M475.6 2975.6L479.6 2975.6L494.6 2949.2L494.6 2945.2L460.6 2945.2L460.6 2949.2Z" fill="#000" stroke-width="4"/><path d="M477.6 2968.7L488.4 2949.6L466.8 2949.6Z" fill="#0080FF" stroke-width="4"/></g>
<g stroke="none"><path d="M475.6 2985.6L479.6 2985.6L494.6 3012L494.6 3016L460.6 3016L460.6 3012Z" fill="#000" stroke-width="4"/><path d="M477.6 2992.5L488.4 3011.6L466.8 3011.6Z" fill="#004080" stroke-width="4"/></g>
</g>
<g fill="#808080" fill-rule="evenodd" shape-rendering="crispEdges">
<path d="M185.3 3716.8L211.3 3721.0L224.3 3722.6L236.3 3723.6L248.3 3724.1L261.3 3723.9L272.3 3723.0L283.3 3721.2L293.3 3718.8L303.3 3715.5L312.3 3711.8L322.3 3706.6L331.3 3701.0L340.3 3694.4L348.4 3687.7L357.4 3679.2L365.4 3670.6L371.4 3663.6L378.4 3654.7L385.4 3645.1L392.4 3634.8L399.4 3624.0L407.4 3610.9L414.4 3598.9L422.4 3584.6L437.4 3556.4L454.4 3522.7L471.4 3487.6L515.4 3395.5L529.4 3367.0L541.4 3343.4L555.4 3317.1L569.4 3292.3L583.4 3269.0L597.4 3247.2L606.4 3233.9L615.4 3221.2L624.4 3209.0L633.4 3197.4L642.4 3186.3L652.4 3174.5L661.4 3164.4L671.5 3153.8L681.5 3143.7L691.5 3134.2L701.5 3125.2L711.5 3116.7L721.5 3108.7L732.5 3100.4L742.5 3093.4L753.5 3086.1L766.5 3078.1L780.5 3070.2L794.5 3063.0L808.5 3056.3L823.5 3049.8L839.5 3043.5L855.5 3037.7L873.5 3031.6L890.5 3026.4L910.5 3020.5L935.5 3013.5L962.5 3006.2L1001.6 2996.0L1168.6 2953.1L1203.6 2944.6L1233.6 2937.9L1261.6 2932.5L1287.6 2928.1L1304.7 2925.7L1321.7 2923.6L1339.7 2921.7L1359.7 2919.9L1400.7 2916.8L1457.7 2913.6L1457.7 2909.6L1453.7 2909.6L1416.7 2911.6L1371.7 2914.6L1336.7 2917.6L1304.7 2921.2L1275.6 2925.4L1246.6 2930.5L1215.6 2937.0L1180.6 2945.1L1145.6 2953.9L963.5 3000.9L935.5 3008.4L910.5 3015.4L889.5 3021.5L871.5 3027.0L853.5 3033.0L836.5 3039.1L820.5 3045.4L805.5 3051.9L790.5 3059.0L776.5 3066.2L762.5 3074.1L749.5 3082.1L738.5 3089.4L728.5 3096.4L717.5 3104.7L707.5 3112.7L697.5 3121.2L687.5 3130.2L677.5 3139.7L667.5 3149.8L657.4 3160.4L648.4 3170.5L638.4 3182.3L629.4 3193.4L620.4 3205.0L611.4 3217.2L602.4 3229.9L593.4 3243.2L579.4 3265.0L565.4 3288.3L551.4 3313.1L537.4 3339.4L525.4 3363.0L511.4 3391.5L467.4 3483.6L450.4 3518.7L434.4 3550.5L419.4 3578.8L411.4 3593.1L404.4 3605.2L396.4 3618.4L389.4 3629.3L382.4 3639.7L375.4 3649.3L368.4 3658.3L362.4 3665.5L354.4 3674.1L346.4 3681.9L338.3 3688.8L329.3 3695.6L320.3 3701.4L311.3 3706.3L302.3 3710.4L293.3 3713.6L283.3 3716.4L273.3 3718.3L262.3 3719.6L251.1 3720.0L239.3 3719.6L227.3 3718.5L211.3 3716.4L189.3 3712.8L185.3 3712.8Z"/>
<path d="M281.3 3668.7L261.3 3677.2L240.3 3686.7L217.3 3697.5L185.3 3712.8L185.3 3716.8L189.3 3716.8L220.3 3701.9L242.3 3691.6L262.3 3682.6L280.3 3674.8L306.3 3664.3L318.3 3659.8L330.3 3655.6L341.3 3652.0L352.4 3648.6L363.4 3645.5L374.4 3642.8L394.4 3638.4L443.4 3628.8L457.4 3625.6L469.4 3622.5L482.4 3618.6L495.4 3614.0L507.4 3609.1L519.4 3603.4L526.4 3599.7L533.4 3595.7L540.4 3591.3L547.4 3586.6L554.4 3581.5L561.4 3576.0L568.4 3570.2L575.4 3564.0L583.4 3556.6L591.4 3548.8L609.4 3530.4L628.4 3509.7L666.5 3467.1L682.5 3449.5L699.5 3431.5L714.5 3416.6L723.5 3408.2L731.5 3401.1L739.5 3394.5L747.5 3388.2L756.5 3381.7L765.5 3375.6L774.5 3369.9L783.5 3364.7L793.5 3359.2L804.5 3353.7L816.5 3348.1L828.5 3342.9L851.5 3333.8L894.5 3318.0L910.5 3311.9L928.5 3304.6L947.5 3296.3L966.5 3287.6L987.6 3277.6L1054.6 3244.5L1078.6 3232.9L1101.6 3222.1L1124.6 3211.9L1150.6 3200.9L1178.6 3189.5L1269.6 3153.8L1304.7 3139.8L1342.7 3124.3L1384.7 3106.8L1457.7 3075.8L1457.7 3071.8L1453.7 3071.8L1372.7 3106.1L1313.7 3130.6L1269.6 3148.2L1179.6 3183.5L1155.6 3193.2L1134.6 3201.9L1106.6 3214.1L1079.6 3226.5L1052.6 3239.5L981.6 3274.6L959.5 3285.0L940.5 3293.7L922.5 3301.4L905.5 3308.3L889.5 3314.4L850.5 3328.7L830.5 3336.4L811.5 3344.5L794.5 3352.6L784.5 3357.9L774.5 3363.6L764.5 3369.7L755.5 3375.6L746.5 3382.0L737.5 3388.9L728.5 3396.3L719.5 3404.2L711.5 3411.6L702.5 3420.4L684.5 3439.0L666.5 3458.6L616.4 3514.5L601.4 3530.6L588.4 3543.9L580.4 3551.6L572.4 3559.1L565.4 3565.3L558.4 3571.2L551.4 3576.7L545.4 3581.2L538.4 3586.0L531.4 3590.5L525.4 3594.0L518.4 3597.9L511.4 3601.4L504.4 3604.7L490.4 3610.4L475.4 3615.5L461.4 3619.5L445.4 3623.4L429.4 3626.8L383.4 3635.8L369.4 3639.0L356.4 3642.3L338.3 3647.6L320.3 3653.6L301.3 3660.7Z"/>
<path d="M281.3 3683.6L185.3 3710.9L185.3 3714.9L189.3 3714.9L253.3 3696.6L300.3 3683.4L343.3 3671.7L382.4 3661.4L446.4 3645.4L591.4 3610.3L626.4 3601.5L657.4 3593.3L692.5 3583.6L725.5 3573.7L752.5 3565.1L818.5 3543.4L836.5 3537.8L853.5 3532.7L872.5 3527.3L890.5 3522.8L907.5 3518.9L923.5 3515.8L945.5 3512.4L968.5 3509.6L993.6 3507.4L1020.6 3505.8L1048.6 3504.6L1124.6 3502.4L1237.6 3498.4L1285.6 3496.9L1358.7 3495.3L1457.7 3493.8L1457.7 3489.8L1361.7 3491.2L1286.6 3492.8L1235.6 3494.4L1120.6 3498.4L1031.6 3501.1L1001.6 3502.6L974.5 3504.6L949.5 3507.3L926.5 3510.6L909.5 3513.7L891.5 3517.6L872.5 3522.3L852.5 3527.8L834.5 3533.1L815.5 3539.1L747.5 3561.5L720.5 3570.0L686.5 3580.1L649.4 3590.4L618.4 3598.5L584.4 3607.0L450.4 3639.5L395.4 3653.1L341.3 3667.1Z"/>
<path d="M281.3 3645.7L261.3 3658.6L240.3 3672.6L217.3 3688.5L185.3 3710.9L185.3 3714.9L189.3 3714.9L227.3 3688.3L255.3 3669.2L281.3 3652.3L304.3 3638.1L323.3 3627.1L341.3 3617.4L359.4 3608.6L376.4 3601.0L389.4 3595.7L402.4 3590.9L416.4 3586.1L431.4 3581.4L459.4 3573.3L524.4 3555.8L540.4 3551.2L555.4 3546.5L569.4 3541.9L585.4 3536.3L645.4 3514.3L670.5 3505.5L683.5 3501.2L696.5 3497.2L708.5 3493.7L720.5 3490.5L734.5 3487.3L748.5 3484.5L763.5 3482.0L778.5 3480.0L794.5 3478.3L812.5 3476.8L832.5 3475.4L891.5 3471.9L910.5 3470.4L927.5 3468.7L946.5 3466.5L968.5 3463.5L1057.6 3450.2L1077.6 3447.6L1095.6 3445.6L1116.6 3443.6L1139.6 3441.9L1214.6 3437.6L1242.6 3435.8L1269.6 3433.4L1294.6 3430.6L1321.7 3426.7L1351.7 3421.7L1383.7 3415.7L1420.7 3408.1L1457.7 3400.2L1457.7 3396.2L1453.7 3396.2L1392.7 3409.1L1369.7 3413.6L1348.7 3417.5L1314.7 3423.2L1298.7 3425.5L1282.6 3427.5L1260.6 3429.9L1235.6 3432.0L1209.6 3433.7L1136.6 3437.8L1114.6 3439.4L1094.6 3441.3L1075.6 3443.4L1053.6 3446.2L967.5 3459.1L947.5 3461.8L929.5 3464.1L911.5 3466.0L892.5 3467.6L820.5 3471.9L790.5 3474.3L774.5 3476.0L759.5 3478.0L745.5 3480.3L731.5 3483.0L718.5 3486.0L704.5 3489.7L690.5 3493.8L674.5 3498.8L645.4 3508.9L578.4 3533.4L561.4 3539.2L545.4 3544.4L531.4 3548.6L515.4 3553.2L461.4 3567.7L439.4 3573.8L416.4 3580.8L396.4 3587.6L382.4 3592.9L368.4 3598.7L355.4 3604.6L341.3 3611.4L327.3 3618.7L312.3 3627.1L297.3 3635.9Z"/>
</g>
<g stroke="#000" shape-rendering="crispEdges">
<circle cx="187.3" cy="3712.2" r="13.7" fill="#00C000" stroke-width="4.6"/>
<circle cx="368.5" cy="3660" r="13.7" fill="#00C000" stroke-width="4.6"/>
<circle cx="549.7" cy="3319.3" r="13.7" fill="#00C000" stroke-width="4.6"/>
<circle cx="730.9" cy="3095.5" r="13.7" fill="#00C000" stroke-width="4.6"/>
<circle cx="912.1" cy="3014.9" r="13.7" fill="#00C000" stroke-width="4.6"/>
<circle cx="1093.3" cy="2967.4" r="13.7" fill="#00C000" stroke-width="4.6"/>
<circle cx="1274.5" cy="2925.3" r="13.7" fill="#00C000" stroke-width="4.6"/>
<circle cx="1455.7" cy="2909" r="13.7" fill="#00C000" stroke-width="4.6"/>
<circle cx="187.3" cy="3712.2" r="13.7" fill="#008000" stroke-width="4.6"/>
<circle cx="368.5" cy="3639.1" r="13.7" fill="#008000" stroke-width="4.6"/>
<circle cx="549.7" cy="3578.9" r="13.7" fill="#008000" stroke-width="4.6"/>
<circle cx="730.9" cy="3395.3" r="13.7" fill="#008000" stroke-width="4.6"/>
<circle cx="912.1" cy="3305.9" r="13.7" fill="#008000" stroke-width="4.6"/>
<circle cx="1093.3" cy="3220.4" r="13.7" fill="#008000" stroke-width="4.6"/>
<circle cx="1274.5" cy="3146.5" r="13.7" fill="#008000" stroke-width="4.6"/>
<circle cx="1455.7" cy="3071.2" r="13.7" fill="#008000" stroke-width="4.6"/>
<g stroke="none"><path d="M185.3 3732.4L189.3 3732.4L204.3 3706L204.3 3702L170.3 3702L170.3 3706Z" fill="#000" stroke-width="4"/><path d="M187.3 3725.5L198.1 3706.4L176.5 3706.4Z" fill="#0080FF" stroke-width="4"/></g>
<g stroke="none"><path d="M366.5 3682L370.5 3682L385.5 3655.6L385.5 3651.6L351.5 3651.6L351.5 3655.6Z" fill="#000" stroke-width="4"/><path d="M368.5 3675.1L379.3 3656L357.7 3656Z" fill="#0080FF" stroke-width="4"/></g>
<g stroke="none"><path d="M547.7 3637.5L551.7 3637.5L566.7 3611.1L566.7 3607.1L532.7 3607.1L532.7 3611.1Z" fill="#000" stroke-width="4"/><path d="M549.7 3630.6L560.5 3611.5L538.9 3611.5Z" fill="#0080FF" stroke-width="4"/></g>
<g stroke="none"><path d="M728.9 3588.9L732.9 3588.9L747.9 3562.5L747.9 3558.5L713.9 3558.5L713.9 3562.5Z" fill="#000" stroke-width="4"/><path d="M730.9 3582L741.7 3562.9L720.1 3562.9Z" fill="#0080FF" stroke-width="4"/></g>
<g stroke="none"><path d="M910.1 3535.1L914.1 3535.1L929.1 3508.7L929.1 3504.7L895.1 3504.7L895.1 3508.7Z" fill="#000" stroke-width="4"/><path d="M912.1 3528.2L922.9 3509.1L901.3 3509.1Z" fill="#0080FF" stroke-width="4"/></g>
<g stroke="none"><path d="M1091.3 3520.8L1095.3 3520.8L1110.3 3494.4L1110.3 3490.4L1076.3 3490.4L1076.3 3494.4Z" fill="#000" stroke-width="4"/><path d="M1093.3 3513.9L1104.1 3494.8L1082.5 3494.8Z" fill="#0080FF" stroke-width="4"/></g>
<g stroke="none"><path d="M1272.5 3514.7L1276.5 3514.7L1291.5 3488.3L1291.5 3484.3L1257.5 3484.3L1257.5 3488.3Z" fill="#000" stroke-width="4"/><path d="M1274.5 3507.8L1285.3 3488.7L1263.7 3488.7Z" fill="#0080FF" stroke-width="4"/></g>
<g stroke="none"><path d="M1453.7 3511.3L1457.7 3511.3L1472.7 3484.9L1472.7 3480.9L1438.7 3480.9L1438.7 3484.9Z" fill="#000" stroke-width="4"/><path d="M1455.7 3504.4L1466.5 3485.3L1444.9 3485.3Z" fill="#0080FF" stroke-width="4"/></g>
<g stroke="none"><path d="M185.3 3692L189.3 3692L204.3 3718.4L204.3 3722.4L170.3 3722.4L170.3 3718.4Z" fill="#000" stroke-width="4"/><path d="M187.3 3698.9L198.1 3718L176.5 3718Z" fill="#004080" stroke-width="4"/></g>
<g stroke="none"><path d="M366.5 3580.6L370.5 3580.6L385.5 3607L385.5 3611L351.5 3611L351.5 3607Z" fill="#000" stroke-width="4"/><path d="M368.5 3587.5L379.3 3606.6L357.7 3606.6Z" fill="#004080" stroke-width="4"/></g>
<g stroke="none"><path d="M547.7 3524.8L551.7 3524.8L566.7 3551.2L566.7 3555.2L532.7 3555.2L532.7 3551.2Z" fill="#000" stroke-width="4"/><path d="M549.7 3531.7L560.5 3550.8L538.9 3550.8Z" fill="#004080" stroke-width="4"/></g>
<g stroke="none"><path d="M728.9 3464.7L732.9 3464.7L747.9 3491.1L747.9 3495.1L713.9 3495.1L713.9 3491.1Z" fill="#000" stroke-width="4"/><path d="M730.9 3471.6L741.7 3490.7L720.1 3490.7Z" fill="#004080" stroke-width="4"/></g>
<g stroke="none"><path d="M910.1 3447.2L914.1 3447.2L929.1 3473.6L929.1 3477.6L895.1 3477.6L895.1 3473.6Z" fill="#000" stroke-width="4"/><path d="M912.1 3454.1L922.9 3473.2L901.3 3473.2Z" fill="#004080" stroke-width="4"/></g>
<g stroke="none"><path d="M1091.3 3422.7L1095.3 3422.7L1110.3 3449.1L1110.3 3453.1L1076.3 3453.1L1076.3 3449.1Z" fill="#000" stroke-width="4"/><path d="M1093.3 3429.6L1104.1 3448.7L1082.5 3448.7Z" fill="#004080" stroke-width="4"/></g>
<g stroke="none"><path d="M1272.5 3409.8L1276.5 3409.8L1291.5 3436.2L1291.5 3440.2L1257.5 3440.2L1257.5 3436.2Z" fill="#000" stroke-width="4"/><path d="M1274.5 3416.7L1285.3 3435.8L1263.7 3435.8Z" fill="#004080" stroke-width="4"/></g>
<g stroke="none"><path d="M1453.7 3377.3L1457.7 3377.3L1472.7 3403.7L1472.7 3407.7L1438.7 3407.7L1438.7 3403.7Z" fill="#000" stroke-width="4"/><path d="M1455.7 3384.2L1466.5 3403.3L1444.9 3403.3Z" fill="#004080" stroke-width="4"/></g>
</g>
<g filter="url(#crisp)"><text x="36.8" y="2764.6" font-size="54">3.0</text><text x="34.2" y="2924.5" font-size="54">2.5</text><text x="37.7" y="3086.6" font-size="54">2.0</text><text x="39" y="3244.4" font-size="54">1.5</text><text x="38.4" y="3409.4" font-size="54">1.0</text><text x="36.5" y="3566.4" font-size="54">0.5</text><text x="40.2" y="3729.6" font-size="54">0.0</text><text x="187.5" y="3832.7" font-size="54" text-anchor="middle">0</text><text x="368.9" y="3832.7" font-size="54" text-anchor="middle">1</text><text x="550.3" y="3832.7" font-size="54" text-anchor="middle">2</text><text x="731.7" y="3832.7" font-size="54" text-anchor="middle">3</text><text x="913.1" y="3832.7" font-size="54" text-anchor="middle">4</text><text x="1094.5" y="3832.7" font-size="54" text-anchor="middle">5</text><text x="1275.9" y="3832.7" font-size="54" text-anchor="middle">6</text><text x="1457.3" y="3832.7" font-size="54" text-anchor="middle">7</text><text transform="translate(20.6 2692.9) scale(1 1.04)" font-size="56">TSI (-)</text><text x="715.7" y="3924.7" font-size="56.5">Time (day)</text><text x="170.3" y="2813.8" font-size="48.6">Oil content (% w/w) - Pressure (bar)</text><text transform="translate(1252.5 2823) scale(1 1.027)" font-size="53.2">Soy lecithin</text><text x="545.1" y="2867.1" font-size="39">30 - 500</text><text x="545.1" y="2917.3" font-size="39">30 - 1000</text><text x="545.1" y="2968" font-size="39">50 - 500</text><text x="545.1" y="3017.6" font-size="39">50 - 1000</text></g>
</svg></body></html>
